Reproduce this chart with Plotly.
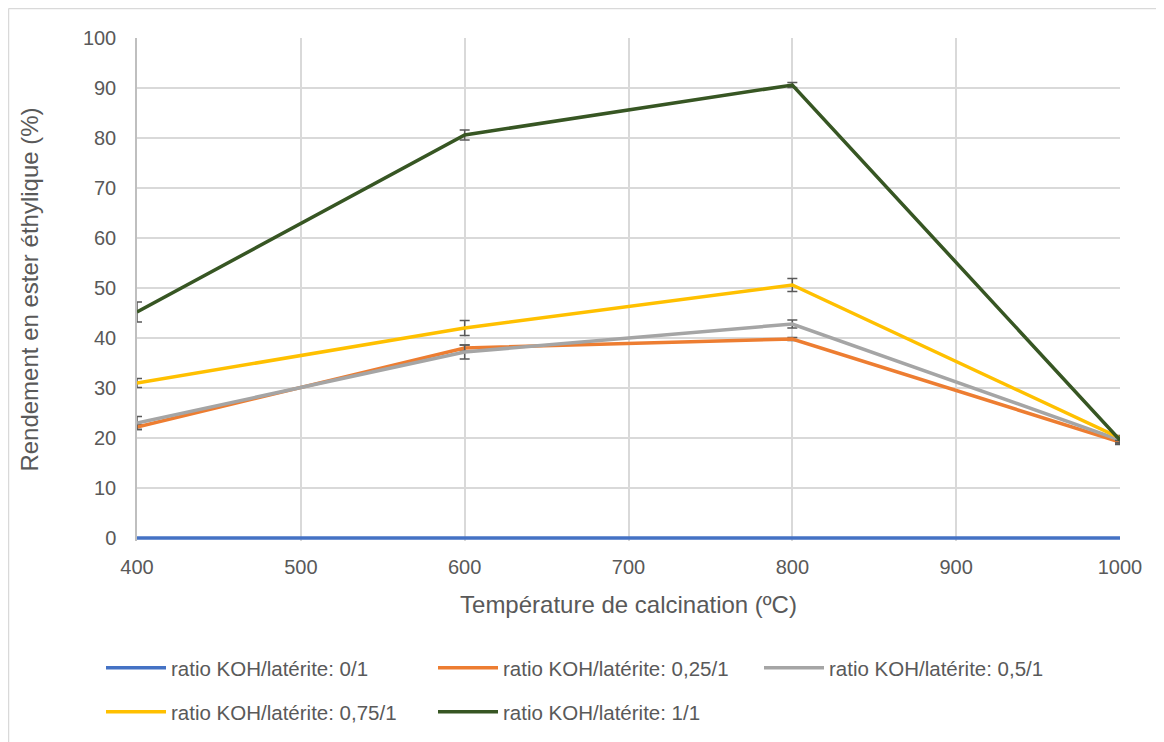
import plotly.graph_objects as go

temps = [400, 600, 800, 1000]
names = ["ratio KOH/latérite: 0/1", "ratio KOH/latérite: 0,25/1", "ratio KOH/latérite: 0,5/1",
         "ratio KOH/latérite: 0,75/1", "ratio KOH/latérite: 1/1"]
colors = ["#4472C4", "#ED7D31", "#A5A5A5", "#FFC000", "#375623"]
r0 = [0, 0, 0, 0]
r025 = [22.2, 38.0, 39.8, 19.2]
r05 = [23.0, 37.2, 42.8, 19.6]
r075 = [31.0, 42.0, 50.6, 20.0]
r1 = [45.2, 80.6, 90.6, 19.6]
e0 = [0, 0, 0, 0]
e025 = [0.5, 0.6, 0.3, 0.5]
e05 = [1.3, 1.4, 0.8, 0.6]
e075 = [0.9, 1.5, 1.3, 0.5]
e1 = [2.0, 1.0, 0.5, 0.6]

series = [r0, r025, r05, r075, r1]
errs = [e0, e025, e05, e075, e1]
legend_ids = ["legend", "legend2", "legend3", "legend4", "legend5"]
# legend entry anchor positions (container pixels)
leg_x = [93, 425, 751, 93, 425]
leg_y = [640, 640, 640, 684, 684]

fig = go.Figure()
for n, c, s, e, lg in zip(names, colors, series, errs, legend_ids):
    fig.add_trace(go.Scatter(
        x=temps, y=s, name=n, mode="lines",
        line=dict(color=c, width=3.5),
        error_y=dict(type="data", array=e, visible=any(v > 0 for v in e),
                     color="#595959", thickness=1.5, width=5),
        legend=lg,
    ))

W, H = 1164, 742
L, T, PW, PH = 129, 30, 983, 503
font = dict(family="Liberation Sans, Arial, sans-serif", size=20, color="#595959")
lfont = dict(family="Liberation Sans, Arial, sans-serif", size=20.5, color="#595959")
legends = {}
for lg, lx, ly in zip(legend_ids, leg_x, leg_y):
    legends[lg] = dict(orientation="h", xref="container", yref="container", x=lx / W,
                       xanchor="left", y=1 - ly / H, yanchor="top", font=lfont,
                       itemwidth=60, bgcolor="rgba(0,0,0,0)")
fig.update_layout(
    width=W, height=H,
    margin=dict(l=L, r=W - L - PW, t=T, b=H - T - PH, autoexpand=False),
    paper_bgcolor="white", plot_bgcolor="white",
    font=font,
    showlegend=True,
    xaxis=dict(range=[400, 1000], dtick=100, tick0=400, showgrid=True, gridcolor="#d9d9d9",
               gridwidth=1.5, zeroline=False, showline=False, ticks="", ticklabelstandoff=12,
               title=dict(text="Température de calcination (ºC)", standoff=19),
               tickfont=font),
    yaxis=dict(range=[-0.6, 100], tickvals=list(range(0, 101, 10)), showgrid=True,
               gridcolor="#d9d9d9", gridwidth=1.5,
               zeroline=False, showline=True, linecolor="#bfbfbf", linewidth=1.5, ticks="",
               ticklabelstandoff=15,
               title=dict(text="Rendement en ester éthylique (%)", standoff=37),
               tickfont=font),
    shapes=[
        dict(type="line", xref="paper", yref="paper",
             x0=(0.5 - L) / PW, x1=(W - L) / PW,
             y0=(T + PH - 0.5) / PH, y1=(T + PH - 0.5) / PH,
             line=dict(color="#d9d9d9", width=1.5), layer="below"),
        dict(type="line", xref="paper", yref="paper",
             x0=(0.5 - L) / PW, x1=(0.5 - L) / PW,
             y0=-(H - T - PH) / PH, y1=(T + PH - 0.5) / PH,
             line=dict(color="#d9d9d9", width=1.5), layer="below"),
    ],
    **legends,
)
fig.write_html("out.html")
